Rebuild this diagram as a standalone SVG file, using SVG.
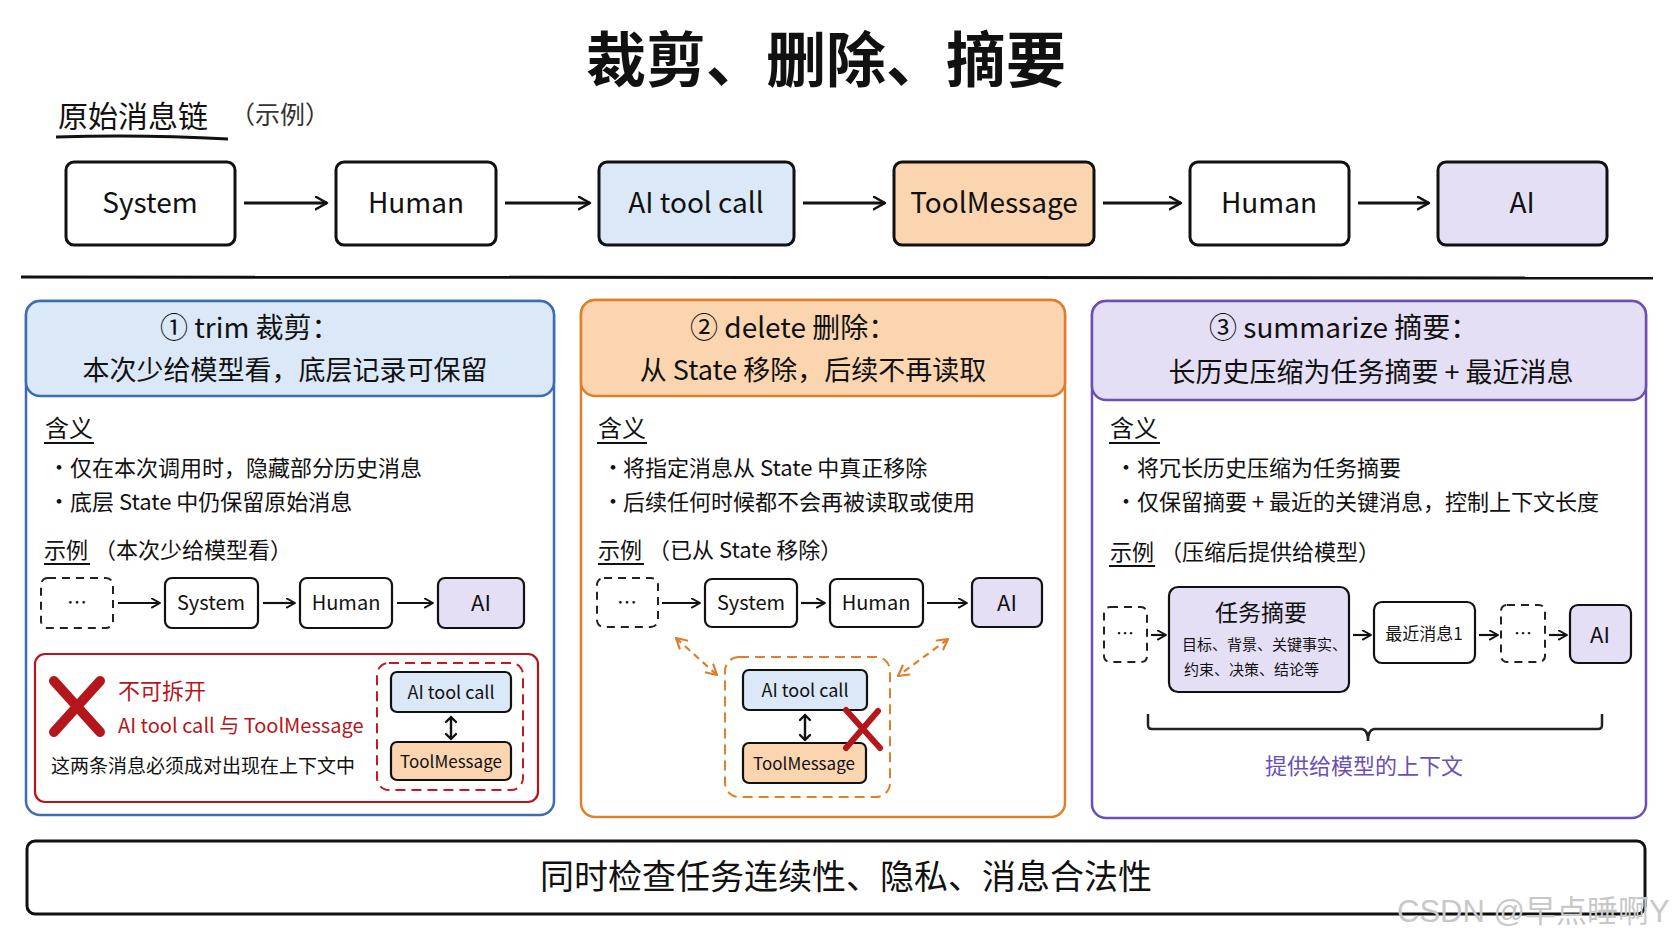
<svg xmlns="http://www.w3.org/2000/svg" width="1672" height="941" viewBox="0 0 1672 941">
<defs>
<style>
text{font-family:"Noto Sans CJK SC","Noto Sans",sans-serif;fill:#111}
.box{fill:#fff;stroke:#111;stroke-width:3}
.sbox{fill:#fff;stroke:#111;stroke-width:2.2}
.dash{fill:#fff;stroke:#222;stroke-width:2;stroke-dasharray:8 6}
.blue{fill:#dbe8f7}
.orange{fill:#fbd5b0}
.purple{fill:#e5dff6}
.arr{fill:none;stroke:#111;stroke-width:3;marker-end:url(#ah)}
.arr2{fill:none;stroke:#111;stroke-width:2.2;marker-end:url(#ah2)}
.big{font-size:28px;text-anchor:middle}
.hd{font-size:28px}
.body{font-size:22px}
.sm{font-size:20px;text-anchor:middle}
.xs{font-size:18px;text-anchor:middle}
.red{fill:#b5161b}
.ul{fill:none;stroke:#111;stroke-width:2}
.dbl{fill:none;stroke:#111;stroke-width:2.4;stroke-linecap:round;stroke-linejoin:round}
</style>
<marker id="ah" viewBox="0 0 12 12" refX="10" refY="6" markerWidth="5" markerHeight="5" orient="auto" markerUnits="strokeWidth">
<path d="M1,1 L10,6 L1,11" fill="none" stroke="#111" stroke-width="2" stroke-linecap="round" stroke-linejoin="round"/>
</marker>
<marker id="ah2" viewBox="0 0 12 12" refX="10" refY="6" markerWidth="5" markerHeight="5" orient="auto" markerUnits="strokeWidth">
<path d="M1,1 L10,6 L1,11" fill="none" stroke="#111" stroke-width="2" stroke-linecap="round" stroke-linejoin="round"/>
</marker>
<marker id="oh" viewBox="0 0 12 12" refX="10" refY="6" markerWidth="6" markerHeight="6" orient="auto-start-reverse" markerUnits="strokeWidth">
<path d="M1,1 L10,6 L1,11" fill="none" stroke="#e07f2a" stroke-width="2" stroke-linecap="round" stroke-linejoin="round"/>
</marker>
</defs>
<rect width="1672" height="941" fill="#fff"/>

<g id="title">
<text x="826" y="82" style="font-size:60px;font-weight:700;text-anchor:middle">裁剪、删除、摘要</text>
</g>

<g id="chain-label">
<text x="58" y="127" style="font-size:30px">原始消息链</text>
<text x="230" y="124" style="font-size:25px;fill:#333">（示例）</text>
<path class="ul" d="M56,137 Q140,134 228,139" style="stroke-width:3"/>
</g>

<g id="top-system"><rect class="box" x="66" y="162" width="169" height="83" rx="8"/><text class="big" x="150" y="213">System</text></g>
<g id="top-human1"><rect class="box" x="336" y="162" width="160" height="83" rx="8"/><text class="big" x="416" y="213">Human</text></g>
<g id="top-aitool"><rect class="box blue" x="599" y="162" width="195" height="83" rx="8"/><text class="big" x="696" y="213">AI tool call</text></g>
<g id="top-toolmsg"><rect class="box orange" x="894" y="162" width="200" height="83" rx="8"/><text class="big" x="994" y="213">ToolMessage</text></g>
<g id="top-human2"><rect class="box" x="1190" y="162" width="159" height="83" rx="8"/><text class="big" x="1269" y="213">Human</text></g>
<g id="top-ai"><rect class="box purple" x="1438" y="162" width="169" height="83" rx="8"/><text class="big" x="1522" y="213">AI</text></g>

<path d="M21,277 Q800,274 1653,278" fill="none" stroke="#111" stroke-width="3"/>

<!-- Panel 1 -->
<g id="panel-trim">
<rect x="26" y="301" width="528" height="514" rx="14" fill="#fff" stroke="#3d6cb0" stroke-width="2.5"/>
<rect x="26" y="301" width="528" height="95" rx="14" fill="#dbe8f7" stroke="#3d6cb0" stroke-width="2.5"/>
<text class="hd" x="160" y="338">① trim  裁剪：</text>
<text class="hd" x="285" y="380" style="text-anchor:middle;font-size:27px">本次少给模型看，底层记录可保留</text>
<text x="45" y="437" style="font-size:24px">含义</text>
<path class="ul" d="M44,443 L94,443"/>
<text class="body" x="48" y="475">•</text><text class="body" x="70" y="476">仅在本次调用时，隐藏部分历史消息</text>
<text class="body" x="48" y="509">•</text><text class="body" x="70" y="510">底层 State 中仍保留原始消息</text>
<text class="body" x="44" y="558">示例<tspan dx="6">（本次少给模型看）</tspan></text>
<path class="ul" d="M44,564 L90,564"/>
</g>
<g id="p1-dots"><rect class="dash" x="41" y="578" width="72" height="50" rx="7"/><text class="sm" x="77" y="610">…</text></g>
<g id="p1-system"><rect class="sbox" x="165" y="578" width="93" height="50" rx="7"/><text class="sm" x="211" y="610">System</text></g>
<g id="p1-human"><rect class="sbox" x="300" y="578" width="92" height="50" rx="7"/><text class="sm" x="346" y="610">Human</text></g>
<g id="p1-ai"><rect class="sbox purple" x="438" y="578" width="86" height="50" rx="7"/><text class="sm" x="481" y="611" style="font-size:22px">AI</text></g>
<g id="p1-warning">
<rect x="35" y="654" width="503" height="148" rx="10" fill="none" stroke="#b5161b" stroke-width="2.2"/>
<path d="M54,681 L100,732 M100,681 L54,732" stroke="#b5161b" stroke-width="10" stroke-linecap="round"/>
<text class="red" x="118" y="699" style="font-size:22px">不可拆开</text>
<text class="red" x="118" y="733" style="font-size:20px">AI tool call 与 ToolMessage</text>
<text x="51" y="773" style="font-size:19px">这两条消息必须成对出现在上下文中</text>
<rect x="377" y="663" width="146" height="127" rx="12" fill="none" stroke="#c4191f" stroke-width="2" stroke-dasharray="10 6"/>
</g>
<g id="p1-aitool"><rect class="sbox blue" x="391" y="672" width="120" height="40" rx="6"/><text class="xs" x="451" y="699">AI tool call</text></g>
<g id="p1-toolmsg"><rect class="sbox orange" x="391" y="742" width="120" height="38" rx="6"/><text class="xs" x="451" y="768" style="font-size:17px">ToolMessage</text></g>

<!-- Panel 2 -->
<g id="panel-delete">
<rect x="581" y="300" width="484" height="517" rx="14" fill="#fff" stroke="#e07f2a" stroke-width="2.5"/>
<rect x="581" y="300" width="484" height="96" rx="14" fill="#fbd5b0" stroke="#e07f2a" stroke-width="2.5"/>
<text class="hd" x="690" y="338">② delete  删除：</text>
<text class="hd" x="813" y="380" style="text-anchor:middle;font-size:27px">从 State 移除，后续不再读取</text>
<text x="598" y="437" style="font-size:24px">含义</text>
<path class="ul" d="M597,443 L647,443"/>
<text class="body" x="602" y="475">•</text><text class="body" x="623" y="476">将指定消息从 State 中真正移除</text>
<text class="body" x="602" y="509">•</text><text class="body" x="623" y="510">后续任何时候都不会再被读取或使用</text>
<text class="body" x="598" y="558">示例<tspan dx="6">（已从 State 移除）</tspan></text>
<path class="ul" d="M598,564 L644,564"/>
</g>
<g id="p2-dots"><rect class="dash" x="597" y="578" width="61" height="49" rx="7"/><text class="sm" x="627" y="610">…</text></g>
<g id="p2-system"><rect class="sbox" x="705" y="579" width="92" height="48" rx="7"/><text class="sm" x="751" y="610">System</text></g>
<g id="p2-human"><rect class="sbox" x="830" y="579" width="93" height="48" rx="7"/><text class="sm" x="876" y="610">Human</text></g>
<g id="p2-ai"><rect class="sbox purple" x="972" y="578" width="70" height="49" rx="7"/><text class="sm" x="1007" y="611" style="font-size:22px">AI</text></g>
<g id="p2-group"><rect x="725" y="657" width="165" height="140" rx="14" fill="none" stroke="#e07f2a" stroke-width="2" stroke-dasharray="10 6"/></g>
<g id="p2-aitool"><rect class="sbox blue" x="743" y="670" width="124" height="40" rx="6"/><text class="xs" x="805" y="697">AI tool call</text></g>
<g id="p2-toolmsg"><rect class="sbox orange" x="743" y="743" width="123" height="40" rx="6"/><text class="xs" x="804" y="770" style="font-size:17px">ToolMessage</text></g>
<g id="p2-cross"><path d="M846,710 L880,748 M878,711 L846,748" stroke="#b5161b" stroke-width="6" stroke-linecap="round"/></g>

<!-- Panel 3 -->
<g id="panel-summarize">
<rect x="1092" y="301" width="554" height="517" rx="14" fill="#fff" stroke="#6c4fb0" stroke-width="2.5"/>
<rect x="1092" y="301" width="554" height="99" rx="14" fill="#e5dff6" stroke="#6c4fb0" stroke-width="2.5"/>
<text class="hd" x="1209" y="338">③ summarize  摘要：</text>
<text class="hd" x="1371" y="382" style="text-anchor:middle;font-size:27px">长历史压缩为任务摘要 + 最近消息</text>
<text x="1110" y="437" style="font-size:24px">含义</text>
<path class="ul" d="M1109,443 L1160,443"/>
<text class="body" x="1115" y="475">•</text><text class="body" x="1137" y="476">将冗长历史压缩为任务摘要</text>
<text class="body" x="1115" y="509">•</text><text class="body" x="1137" y="510">仅保留摘要 + 最近的关键消息，控制上下文长度</text>
<text class="body" x="1110" y="560">示例<tspan dx="6">（压缩后提供给模型）</tspan></text>
<path class="ul" d="M1109,566 L1155,566"/>
<path d="M1148,714 L1148,725 Q1148,729 1152,729 L1362,729 Q1368,730 1368,741 Q1368,730 1374,729 L1598,729 Q1602,729 1602,725 L1602,714" fill="none" stroke="#222" stroke-width="2.5"/>
<text x="1364" y="774" style="font-size:22px;text-anchor:middle;fill:#6b4fb8">提供给模型的上下文</text>
</g>
<g id="p3-dots1"><rect class="dash" x="1104" y="607" width="43" height="55" rx="6"/><text class="sm" x="1125" y="640" style="font-size:18px">…</text></g>
<g id="p3-summary"><rect class="sbox purple" x="1169" y="587" width="180" height="105" rx="9"/>
<text x="1261" y="621" style="font-size:23px;text-anchor:middle">任务摘要</text>
<text x="1182" y="650" style="font-size:15px">目标、背景、关键事实、</text>
<text x="1184" y="675" style="font-size:15px">约束、决策、结论等</text></g>
<g id="p3-recent"><rect class="sbox" x="1374" y="602" width="101" height="61" rx="8"/><text x="1424" y="640" style="font-size:17px;text-anchor:middle">最近消息1</text></g>
<g id="p3-dots2"><rect class="dash" x="1501" y="605" width="44" height="57" rx="6"/><text class="sm" x="1523" y="640" style="font-size:18px">…</text></g>
<g id="p3-ai"><rect class="sbox purple" x="1570" y="605" width="61" height="58" rx="8"/><text class="sm" x="1600" y="643" style="font-size:22px">AI</text></g>

<g id="bottom"><rect x="27" y="841" width="1618" height="73" rx="8" fill="#fff" stroke="#111" stroke-width="3"/>
<text x="846" y="889" style="font-size:34px;text-anchor:middle">同时检查任务连续性、隐私、消息合法性</text></g>

<text x="1397" y="922" style="font-size:31px;fill:#c8c8c8;font-family:'Liberation Sans','Noto Sans CJK SC',sans-serif">CSDN @早点睡啊Y</text>

<g id="connectors">
<path class="arr" d="M244,203 L327,203"/>
<path class="arr" d="M505,203 L590,203"/>
<path class="arr" d="M803,203 L885,203"/>
<path class="arr" d="M1103,203 L1181,203"/>
<path class="arr" d="M1358,203 L1429,203"/>
<path class="arr2" d="M118,603 L160,603"/>
<path class="arr2" d="M263,603 L295,603"/>
<path class="arr2" d="M397,603 L433,603"/>
<path class="dbl" d="M451,717 L451,739 M446,722 L451,717 L456,722 M446,734 L451,739 L456,734"/>
<path class="arr2" d="M662,603 L700,603"/>
<path class="arr2" d="M801,603 L825,603"/>
<path class="arr2" d="M927,603 L967,603"/>
<path d="M676,638 L717,675" fill="none" stroke="#e07f2a" stroke-width="2.2" stroke-dasharray="7 5" marker-start="url(#oh)" marker-end="url(#oh)"/>
<path d="M948,639 L898,676" fill="none" stroke="#e07f2a" stroke-width="2.2" stroke-dasharray="7 5" marker-start="url(#oh)" marker-end="url(#oh)"/>
<path class="dbl" d="M805,715 L805,740 M800,720 L805,715 L810,720 M800,735 L805,740 L810,735"/>
<path class="arr2" d="M1151,635 L1166,635"/>
<path class="arr2" d="M1353,635 L1371,635"/>
<path class="arr2" d="M1479,635 L1498,635"/>
<path class="arr2" d="M1549,635 L1567,635"/>
</g>
</svg>
